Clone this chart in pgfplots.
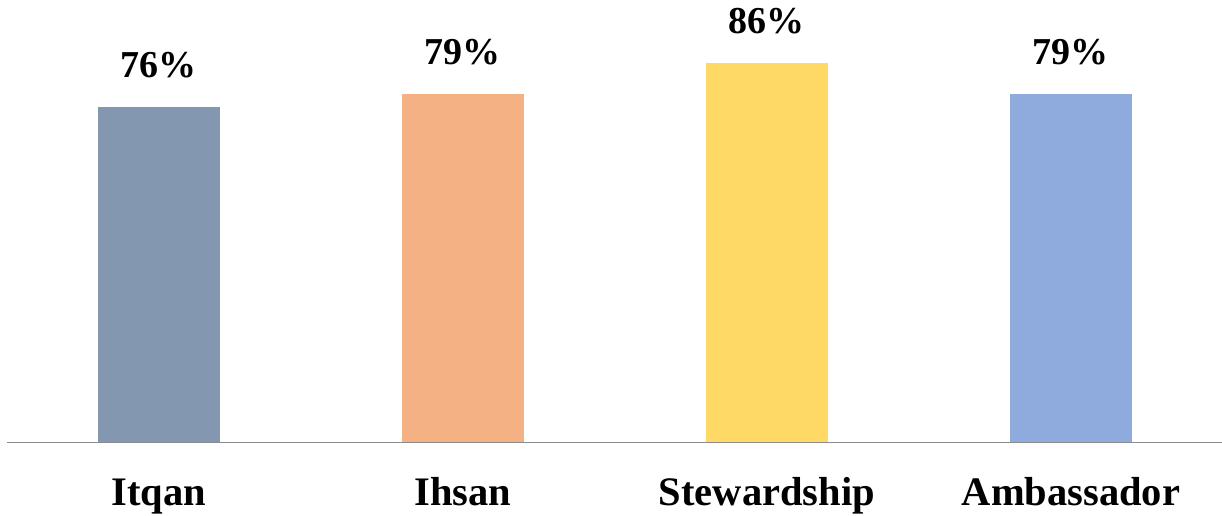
\documentclass[border=0pt]{standalone}
\usepackage{pgfplots}
\pgfplotsset{compat=1.18}
\usepackage{fontspec}
\setmainfont{Liberation Serif}
\definecolor{c1}{HTML}{8497B0}
\definecolor{c2}{HTML}{F4B183}
\definecolor{c3}{HTML}{FFD966}
\definecolor{c4}{HTML}{8FAADC}
\begin{document}
\begin{tikzpicture}
\useasboundingbox (-7pt,-74pt) rectangle (1215pt,442pt);
\begin{axis}[
  at={(0,0)}, anchor=south west,
  scale only axis, width=1216pt, height=441pt,
  xmin=-0.5, xmax=3.5, ymin=0, ymax=100,
  axis x line*=bottom, axis y line=none,
  x axis line style={draw=black!45, line width=1pt},
  ytick=\empty,
  xtick={0,1,2,3},
  xticklabels={Itqan,Ihsan,Stewardship,Ambassador},
  major tick length=0pt,
  xticklabel style={anchor=base, yshift=-63pt, font=\fontsize{40.5}{46}\selectfont\bfseries},
  bar width=121.6pt,
  /pgf/number format/assume math mode=true,
  nodes near coords={\pgfmathprintnumber{\pgfplotspointmeta}\%},
  nodes near coords style={anchor=base, yshift=29.5pt, font=\fontsize{38}{44}\selectfont\bfseries, text=black},
  clip=false,
]
\addplot[ybar, fill=c1, draw=none] coordinates {(0,76)};
\addplot[ybar, fill=c2, draw=none] coordinates {(1,79)};
\addplot[ybar, fill=c3, draw=none] coordinates {(2,86)};
\addplot[ybar, fill=c4, draw=none] coordinates {(3,79)};
\end{axis}
\end{tikzpicture}
\end{document}
